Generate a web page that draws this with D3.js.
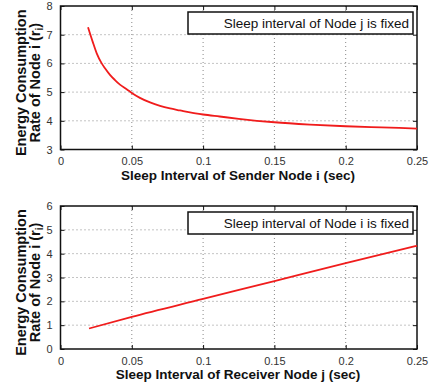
<!DOCTYPE html>
<meta charset="utf-8">
<script src="https://d3js.org/d3.v7.min.js"></script>
<style>
body { margin:0; background:#fff; }
svg { font-family: "Liberation Sans", Arial, sans-serif; }
.grid line { stroke:#888; stroke-width:1; stroke-dasharray:1,3; }
.tick text { fill:#333; font-size:11px; }
.frame { fill:none; stroke:#111; stroke-width:1.5; }
.curve { fill:none; stroke:#f01c1c; stroke-width:1.8; }
.title { font-weight:bold; font-size:13.5px; fill:#111; }
.legend rect { fill:#fff; stroke:#111; stroke-width:1.5; }
.legend text { font-size:13.5px; fill:#111; }
</style>
<body></body>
<script>

// top panel: sender sleep interval varies
var senderX = [0.0193, 0.0226, 0.0254, 0.0289, 0.0312, 0.0347, 0.0382, 0.0417, 0.0464, 0.050, 0.0557, 0.0628, 0.0698, 0.0768, 0.0838, 0.0908, 0.100, 0.1116, 0.125, 0.150, 0.175, 0.200, 0.225, 0.250];
var senderRate = [7.26, 6.75, 6.35, 6.00, 5.83, 5.60, 5.42, 5.26, 5.10, 4.97, 4.80, 4.64, 4.52, 4.43, 4.36, 4.29, 4.22, 4.15, 4.07, 3.95, 3.87, 3.81, 3.77, 3.73];

// bottom panel: receiver sleep interval varies
var receiverX = [0.020, 0.050, 0.100, 0.150, 0.200, 0.250];
var receiverRate = [0.86, 1.35, 2.10, 2.85, 3.60, 4.33];

var xTicks = [0, 0.05, 0.1, 0.15, 0.2, 0.25];
var topYTicks = [3, 4, 5, 6, 7, 8];
var bottomYTicks = [0, 1, 2, 3, 4, 5, 6];

var W = 429, H = 387;
var left = 60.5, right = 417;

var svg = d3.select("body").append("svg")
  .attr("width", W)
  .attr("height", H);

function panel(top, bottom, yTicks, xs, ys, legendText, xTitle) {
  var g = svg.append("g");

  var x = d3.scaleLinear().domain([0, 0.25]).range([left, right]);
  var y = d3.scaleLinear().domain([yTicks[0], yTicks[yTicks.length - 1]]).range([bottom, top]);

  // grid
  var grid = g.append("g").attr("class", "grid");
  grid.selectAll(".gx").data(xTicks.slice(1, -1)).enter().append("line")
    .attr("x1", function(d) { return x(d); }).attr("x2", function(d) { return x(d); })
    .attr("y1", top).attr("y2", bottom);
  grid.selectAll(".gy").data(yTicks.slice(1, -1)).enter().append("line")
    .attr("y1", function(d) { return y(d); }).attr("y2", function(d) { return y(d); })
    .attr("x1", left).attr("x2", right);

  function inward(s) {
    s.select(".domain").remove();
    s.selectAll(".tick line").attr("stroke", "#111");
  }

  // axes, ticks pointing inward
  g.append("g")
    .attr("transform", "translate(0," + bottom + ")")
    .call(d3.axisBottom(x).tickValues(xTicks).tickSize(-4).tickPadding(8).tickFormat(function(d) { return d === 0 ? "0" : String(d); }))
    .call(inward);
  g.append("g")
    .attr("transform", "translate(0," + top + ")")
    .call(d3.axisTop(x).tickValues(xTicks).tickSize(-4).tickFormat(""))
    .call(inward);
  g.append("g")
    .attr("transform", "translate(" + left + ",0)")
    .call(d3.axisLeft(y).tickValues(yTicks).tickSize(-4).tickPadding(8).tickFormat(d3.format("d")))
    .call(inward);
  g.append("g")
    .attr("transform", "translate(" + right + ",0)")
    .call(d3.axisRight(y).tickValues(yTicks).tickSize(-4).tickFormat(""))
    .call(inward);

  g.append("rect").attr("class", "frame")
    .attr("x", left).attr("y", top)
    .attr("width", right - left).attr("height", bottom - top);

  var line = d3.line()
    .x(function(d, i) { return x(xs[i]); })
    .y(function(d) { return y(d); })
    .curve(d3.curveMonotoneX);
  g.append("path").attr("class", "curve").attr("d", line(ys));

  // legend
  var lg = g.append("g").attr("class", "legend");
  lg.append("rect").attr("x", 188).attr("y", top + 6).attr("width", 225).attr("height", 22);
  lg.append("text").attr("x", 409).attr("y", top + 22).attr("text-anchor", "end").text(legendText);

  // titles
  g.append("text").attr("class", "title")
    .attr("x", 238).attr("y", bottom + 30)
    .attr("text-anchor", "middle")
    .text(xTitle);

  var cy = (top + bottom) / 2 + 5;
  var yl = g.append("text").attr("class", "title")
    .attr("transform", "translate(26," + cy + ") rotate(-90)")
    .attr("text-anchor", "middle")
    .style("font-size", "14.5px");
  yl.append("tspan").attr("x", 0).attr("y", 0).text("Energy Consumption");
  var l2 = yl.append("tspan").attr("x", 0).attr("y", 14).text("Rate of Node i (r");
  l2.append("tspan").attr("font-size", "10px").attr("dy", 3).text("i");
  l2.append("tspan").attr("dy", -3).text(")");
}

panel(6, 149.5, topYTicks, senderX, senderRate, "Sleep interval of Node j is fixed", "Sleep Interval of Sender Node i (sec)");
panel(206, 349, bottomYTicks, receiverX, receiverRate, "Sleep interval of Node i is fixed", "Sleep Interval of Receiver Node j (sec)");

</script>
